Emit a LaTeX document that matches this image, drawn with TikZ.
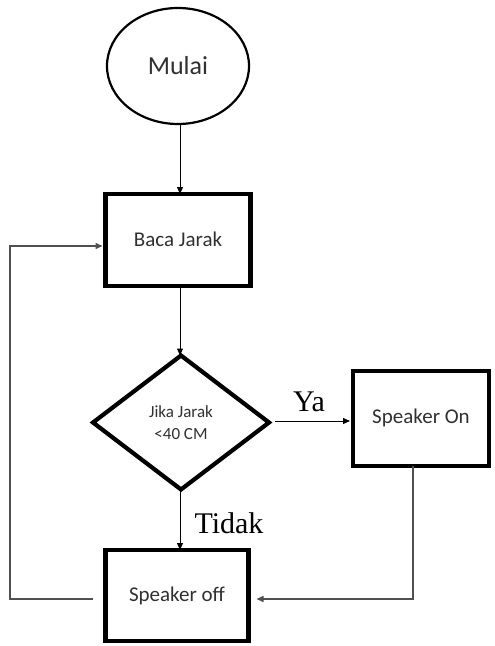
\documentclass[tikz,border=0pt]{standalone}
\usepackage{fontspec}
\setmainfont{Carlito}
\newfontfamily\labelserif{Liberation Serif}
\usetikzlibrary{shapes.geometric,arrows.meta,calc}
\definecolor{textgray}{HTML}{303030}
\definecolor{loopgray}{HTML}{505050}
\begin{document}
\begin{tikzpicture}[x=1pt,y=-1pt,
  term/.style={draw=black,ellipse,line width=2.2pt,inner sep=0pt,outer sep=0pt,
    minimum width=142,minimum height=116,text=textgray,font=\fontsize{26}{30}\selectfont},
  stepbox/.style={draw=black,rectangle,line width=4.2pt,inner sep=0pt,outer sep=0pt,
    text=textgray,font=\fontsize{21}{24}\selectfont},
  decide/.style={draw=black,diamond,line width=4.2pt,inner sep=0pt,outer sep=0pt,
    minimum width=176,minimum height=134,align=center,text=textgray,
    font=\fontsize{17}{22}\selectfont},
  flow/.style={draw=black,line width=1pt,-{Triangle[length=7pt,width=6pt]}},
  back/.style={draw=loopgray,line width=1.5pt,-{Triangle[length=7pt,width=6pt]}},
  branch/.style={font=\labelserif\fontsize{30}{32}\selectfont,text=black}
]
\useasboundingbox (0,0) rectangle (495,646);

\node[term] (mulai) at (178,66) {Mulai};
\node[stepbox,minimum width=145,minimum height=92] (baca) at (178,240) {\raisebox{2pt}{Baca Jarak}};
\node[decide] (cek) at (181,422.5) {Jika Jarak\\<40 CM};
\node[stepbox,minimum width=136,minimum height=95] (on) at (421,418.5) {\raisebox{5pt}{Speaker On}};
\node[stepbox,minimum width=143,minimum height=91] (off) at (177,595.5) {\raisebox{3pt}{Speaker off}};

\node[branch] (ya) at (309,402) {Ya};
\node[branch] (tidak) at (229,523) {Tidak};

\draw[flow] (mulai.south -| 180,0) -- (baca.north -| 180,0);
\draw[flow] (baca.south -| 180,0) -- (cek.north -| 180,0);
\draw[flow,shorten <=6pt,shorten >=3pt] ([yshift=1.5pt]cek.east) -- ([yshift=1.5pt]cek.east -| on.west);
\draw[flow] (cek.south -| 180,0) -- (off.north -| 180,0);

\coordinate (rtc) at (413,599);
\draw[back,shorten >=8pt] (on.south -| rtc) -- (rtc) -- ([yshift=-3.5pt]off.east);

\coordinate (lb) at (10,599);
\coordinate (lt) at (10,246);
\draw[back,shorten <=13pt,shorten >=3pt] ([yshift=-3.5pt]off.west) -- (lb) -- (lt) -- ([yshift=-6pt]baca.west);
\end{tikzpicture}
\end{document}
